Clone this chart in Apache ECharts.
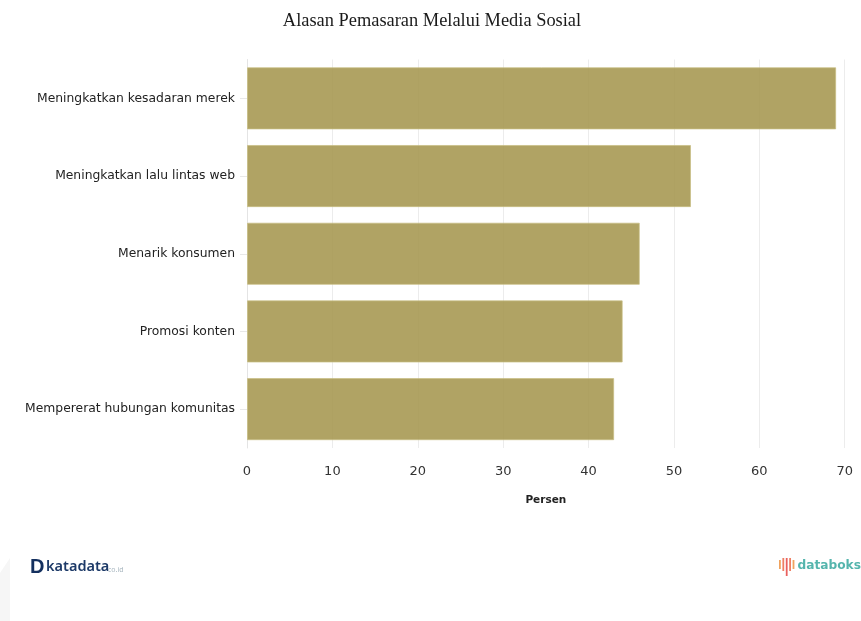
<!DOCTYPE html>
<html>
<head>
<meta charset="utf-8">
<style>html,body{margin:0;padding:0;background:#fff}#chart{width:861px;height:621px}</style>
<script src="https://cdn.jsdelivr.net/npm/echarts@6/dist/echarts.min.js"></script>
</head>
<body>
<div id="chart"></div>
<script>
// Reasons for marketing through social media, percent of respondents
const chartTitle = 'Alasan Pemasaran Melalui Media Sosial';
const axisName = 'Persen';
const categories = [
  'Meningkatkan kesadaran merek',
  'Meningkatkan lalu lintas web',
  'Menarik konsumen',
  'Promosi konten',
  'Mempererat hubungan komunitas'
];
const values = [69, 52, 46, 44, 43];

const chart = echarts.init(document.getElementById('chart'), null, {renderer: 'canvas'});

// Databoks mark: short coloured strokes beside the wordmark
const strokeColors = ['#f0a35e', '#ee7f63', '#e9605f', '#ee7f63', '#f0a35e'];
const strokeHeights = [9, 13, 18, 13, 9];
const strokeTops = [560, 558, 558, 558, 560];
const databoksMark = strokeColors.map((c, i) => ({
  type: 'rect',
  shape: {x: 779 + i * 3.4, y: strokeTops[i], width: 1.8, height: strokeHeights[i]},
  style: {fill: c}
}));

chart.setOption({
  animation: false,
  backgroundColor: '#ffffff',
  title: {
    text: chartTitle,
    left: 427,
    top: 7,
    textAlign: 'center',
    textStyle: {fontFamily: 'Liberation Serif', fontSize: 18.4, fontWeight: 'normal', color: '#1a1a1a'}
  },
  grid: {left: 247, right: 16.3, top: 59.5, bottom: 173, containLabel: false},
  xAxis: {
    type: 'value',
    min: 0,
    max: 70,
    interval: 10,
    name: axisName,
    nameLocation: 'middle',
    nameGap: 47,
    nameTextStyle: {fontFamily: 'DejaVu Sans', fontSize: 10.5, fontWeight: 'bold', color: '#222'},
    axisLine: {show: false},
    axisTick: {show: false},
    axisLabel: {fontFamily: 'DejaVu Sans', fontSize: 13, color: '#333', margin: 17},
    splitLine: {show: true, lineStyle: {color: '#ececec', width: 1}}
  },
  yAxis: {
    type: 'category',
    data: categories,
    inverse: true,
    axisLine: {show: true, lineStyle: {color: '#e4e4e4', width: 1}},
    axisTick: {show: true, length: 7, alignWithLabel: true, lineStyle: {color: '#e8e8e8'}},
    axisLabel: {fontFamily: 'DejaVu Sans', fontSize: 12.35, color: '#222', margin: 12},
    splitLine: {show: false}
  },
  series: [{
    type: 'bar',
    data: values,
    barCategoryGap: '20%',
    itemStyle: {color: 'rgba(163,148,74,0.86)', borderColor: 'rgba(200,190,130,0.7)', borderWidth: 1}
  }],
  graphic: [
    // faint page corner at the lower left
    {type: 'polygon', shape: {points: [[0, 573], [10, 558], [10, 621], [0, 621]]}, style: {fill: '#f6f6f6'}, z: -1},
    // Katadata wordmark
    {type: 'text', x: 30, y: 557, style: {text: 'D', fontFamily: 'Liberation Sans', fontWeight: 'bold', fontSize: 20, fill: '#14305f'}},
    {type: 'text', x: 46, y: 559, style: {text: 'katadata', fontFamily: 'Noto Sans', fontWeight: 600, fontSize: 14.5, fill: '#1d3a68'}},
    {type: 'text', x: 108, y: 566, style: {text: 'co.id', fontFamily: 'Noto Sans', fontSize: 7, fill: '#a9b7c0'}},
    // Databoks wordmark
    ...databoksMark,
    {type: 'text', x: 797.5, y: 560, style: {text: 'databoks', fontFamily: 'DejaVu Sans', fontWeight: 'bold', fontSize: 12.2, fill: '#55b5ad'}}
  ]
});
</script>
</body>
</html>
